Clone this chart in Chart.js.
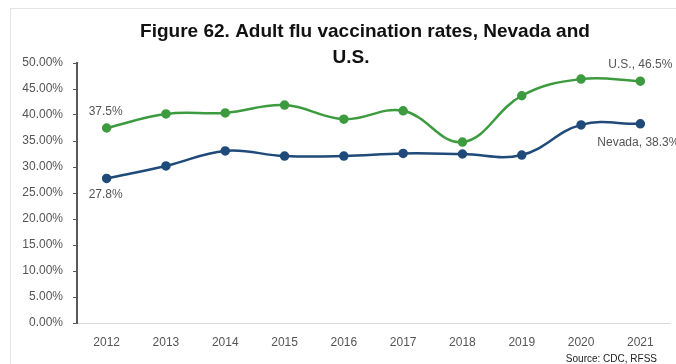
<!DOCTYPE html>
<html>
<head>
<meta charset="utf-8">
<script src="https://cdn.jsdelivr.net/npm/chart.js@4.4.1/dist/chart.umd.min.js"></script>
<style>
  html, body { margin: 0; padding: 0; background: #fff; }
  #wrap { width: 676px; height: 364px; position: relative; }
</style>
</head>
<body>
<div id="wrap"><canvas id="fluChart"></canvas></div>
<script>
// Werte (in %)
const years = ['2012', '2013', '2014', '2015', '2016', '2017', '2018', '2019', '2020', '2021'];
const usRates = [37.5, 40.2, 40.4, 41.9, 39.2, 40.8, 34.8, 43.7, 46.9, 46.5];
const nevadaRates = [27.8, 30.2, 33.1, 32.1, 32.1, 32.6, 32.5, 32.3, 38.1, 38.3];
const yTicks = [0, 5, 10, 15, 20, 25, 30, 35, 40, 45, 50];

const titleLines = ['Figure 62. Adult flu vaccination rates, Nevada and', 'U.S.'];
const sourceText = 'Source: CDC, RFSS';

const GREEN = '#3d9b3f';
const NAVY = '#1f4a7a';
const FONT = '"Liberation Sans", Arial, sans-serif';

// Titel, Quelle, Rahmen und Datenbeschriftungen
const decorPlugin = {
    id: 'decor',
    beforeDraw(chart) {
        const ctx = chart.ctx;
        ctx.save();
        ctx.strokeStyle = '#e3e3e3';
        ctx.lineWidth = 1;
        ctx.strokeRect(10.5, 8.5, 680, 370);
        ctx.restore();
    },
    afterDraw(chart) {
        const ctx = chart.ctx;
        ctx.save();
        ctx.fillStyle = '#111';
        ctx.font = 'bold 19px ' + FONT;
        ctx.textAlign = 'center';
        ctx.textBaseline = 'alphabetic';
        ctx.fillText(titleLines[0], 365, 37);
        ctx.fillText(titleLines[1], 351, 63);

        ctx.font = '10px ' + FONT;
        ctx.fillStyle = '#222';
        ctx.textAlign = 'right';
        ctx.fillText(sourceText, 657, 362);

        const us = chart.getDatasetMeta(0).data;
        const nv = chart.getDatasetMeta(1).data;
        const last = years.length - 1;
        ctx.font = '12px ' + FONT;
        ctx.fillStyle = '#555';
        ctx.textAlign = 'left';
        ctx.fillText(usRates[0].toFixed(1) + '%', us[0].x - 18, us[0].y - 13);
        ctx.fillText(nevadaRates[0].toFixed(1) + '%', nv[0].x - 18, nv[0].y + 20);
        ctx.fillText('U.S., ' + usRates[last].toFixed(1) + '%', us[last].x - 32, us[last].y - 13);
        ctx.fillText('Nevada, ' + nevadaRates[last].toFixed(1) + '%', nv[last].x - 43, nv[last].y + 22);
        ctx.restore();
    }
};

const ctx = document.getElementById('fluChart').getContext('2d');
new Chart(ctx, {
    type: 'line',
    data: {
        labels: years,
        datasets: [
            {
                label: 'U.S.',
                data: usRates,
                borderColor: GREEN,
                backgroundColor: GREEN,
                borderWidth: 2.5,
                pointRadius: 3.5,
                pointHoverRadius: 3.5,
                tension: 0.4
            },
            {
                label: 'Nevada',
                data: nevadaRates,
                borderColor: NAVY,
                backgroundColor: NAVY,
                borderWidth: 2.5,
                pointRadius: 3.5,
                pointHoverRadius: 3.5,
                tension: 0.4
            }
        ]
    },
    options: {
        responsive: true,
        maintainAspectRatio: false,
        animation: false,
        layout: { padding: { top: 63, right: 6, left: 0, bottom: 0 } },
        plugins: {
            legend: { display: false },
            title: { display: false },
            tooltip: { enabled: false }
        },
        scales: {
            x: {
                offset: true,
                grid: { display: false },
                border: { display: true, color: '#d9d9d9', width: 1 },
                ticks: {
                    color: '#555',
                    font: { family: FONT, size: 12 },
                    padding: 4,
                    maxRotation: 0
                },
                afterFit: s => { s.height = 41; }
            },
            y: {
                min: 0,
                max: 50,
                afterBuildTicks: s => { s.ticks = yTicks.map(v => ({ value: v })); },
                grid: {
                    drawOnChartArea: false,
                    drawTicks: true,
                    tickLength: 4,
                    color: '#595959'
                },
                border: { display: true, color: '#595959', width: 2 },
                ticks: {
                    color: '#555',
                    font: { family: FONT, size: 12 },
                    padding: 10,
                    callback: v => v.toFixed(2) + '%'
                },
                afterFit: s => { s.width = 77; }
            }
        }
    },
    plugins: [decorPlugin]
});
</script>
</body>
</html>
